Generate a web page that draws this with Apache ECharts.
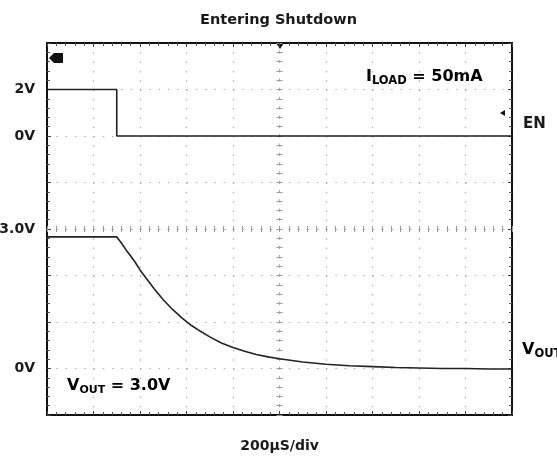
<!DOCTYPE html>
<html>
<head>
<meta charset="utf-8">
<script src="https://cdn.jsdelivr.net/npm/echarts@6/dist/echarts.min.js"></script>
<style>html,body{margin:0;padding:0;background:#fff}#c{width:557px;height:461px}</style>
</head>
<body>
<div id="c"></div>
<script>
// ---- data (time in µs, voltages in V) ----
const enTime = [0, 300, 300, 2000];
const enVolt = [2, 2, 0, 0];
const voutTime = [0, 300, 320, 340, 360, 380, 400, 430, 460, 500, 540, 580, 620, 660, 700, 750, 800, 850, 900, 950, 1000, 1100, 1200, 1300, 1400, 1500, 1600, 1700, 1800, 1900, 2000];
const voutVolt = [2.83, 2.83, 2.70, 2.55, 2.42, 2.28, 2.12, 1.92, 1.72, 1.48, 1.27, 1.09, 0.93, 0.80, 0.68, 0.55, 0.45, 0.37, 0.30, 0.25, 0.21, 0.14, 0.09, 0.06, 0.04, 0.02, 0.01, 0.0, 0.0, -0.01, -0.01];
const enTickValues = [2, 0];
const enTickLabels = ['2V', '0V'];
const voutTickValues = [3, 0];
const voutTickLabels = ['3.0V', '0V'];
const titleText = 'Entering Shutdown';
const xAxisTitle = '200µS/div';

const FONT = 'DejaVu Sans';
const G = {left: 47, top: 43, width: 465, height: 372};
const dark = '#222';
const txt = '#1a1a1a';

function lbl(values, labels) {
  return function (v) {
    for (let i = 0; i < values.length; i++) if (Math.abs(v - values[i]) < 1e-9) return labels[i];
    return '';
  };
}
const borderAxisLine = {show: true, onZero: false, lineStyle: {color: '#111', width: 2}};
const tickIn = {show: true, inside: true, length: 4, lineStyle: {color: '#444', width: 1}};
const minorIn = {show: true, splitNumber: 5, length: 3, lineStyle: {color: '#555', width: 1}};
const centerLine = {show: true, onZero: false, lineStyle: {color: '#aaa', width: 1, type: [1.5, 7.8]}};
const centerTick = (inside) => ({show: true, inside: inside, length: 3, lineStyle: {color: '#999', width: 1}});
const centerMinor = {show: true, splitNumber: 5, length: 3, lineStyle: {color: '#999', width: 1}};
const gridDots = {show: true, lineStyle: {color: '#b0b0b0', width: 1.2, type: [1.5, 7.8]}};
const richA = (fs) => ({fontFamily: FONT, fontWeight: 'bold', fontSize: fs, color: txt, lineHeight: 20, verticalAlign: 'middle'});
const richB = (fs) => ({fontFamily: FONT, fontWeight: 'bold', fontSize: fs, color: txt, lineHeight: 13, verticalAlign: 'bottom'});

const chart = echarts.init(document.getElementById('c'), null, {renderer: 'canvas'});
chart.setOption({
  animation: false,
  title: {text: titleText, left: 'center', top: 8,
    textStyle: {fontFamily: FONT, fontWeight: 'bold', fontSize: 14.5, color: txt}},
  grid: {left: G.left, top: G.top, width: G.width, height: G.height, show: true, borderColor: '#111', borderWidth: 2,
    containLabel: false, outerBoundsMode: 'none'},
  xAxis: [
    {type: 'value', min: 0, max: 2000, interval: 200, position: 'bottom',
      name: xAxisTitle, nameLocation: 'middle', nameGap: 24,
      nameTextStyle: {fontFamily: FONT, fontWeight: 'bold', fontSize: 14, color: txt},
      axisLine: borderAxisLine, axisTick: tickIn, minorTick: minorIn, axisLabel: {show: false},
      splitLine: gridDots},
    {type: 'value', min: 0, max: 2000, interval: 200, position: 'top',
      axisLine: borderAxisLine, axisTick: tickIn, minorTick: minorIn, axisLabel: {show: false}, splitLine: {show: false}},
    {type: 'value', min: 0, max: 2000, interval: 200, position: 'bottom', offset: -G.height / 2,
      axisLine: centerLine, axisTick: centerTick(true), minorTick: centerMinor, axisLabel: {show: false}, splitLine: {show: false}},
    {type: 'value', min: 0, max: 2000, interval: 200, position: 'bottom', offset: -G.height / 2,
      axisLine: {show: false, onZero: false}, axisTick: centerTick(false), minorTick: centerMinor, axisLabel: {show: false}, splitLine: {show: false}}
  ],
  yAxis: [
    {type: 'value', min: -12, max: 4, interval: 2, position: 'left',
      axisLine: borderAxisLine, axisTick: tickIn, minorTick: minorIn, splitLine: {show: false},
      axisLabel: {show: true, margin: 12, formatter: lbl(enTickValues, enTickLabels),
        fontFamily: FONT, fontWeight: 'bold', fontSize: 14, color: txt}},
    {type: 'value', min: -1, max: 7, interval: 1, position: 'left',
      axisLine: {show: false, onZero: false}, axisTick: {show: false}, splitLine: {show: false},
      axisLabel: {show: true, margin: 12, formatter: lbl(voutTickValues, voutTickLabels),
        fontFamily: FONT, fontWeight: 'bold', fontSize: 14, color: txt}},
    {type: 'value', min: 0, max: 8, interval: 1, position: 'right',
      axisLine: borderAxisLine, axisTick: tickIn, minorTick: minorIn, axisLabel: {show: false},
      splitLine: gridDots},
    {type: 'value', min: 0, max: 8, interval: 1, position: 'left', offset: -G.width / 2,
      axisLine: centerLine, axisTick: centerTick(true), minorTick: centerMinor, axisLabel: {show: false}, splitLine: {show: false}},
    {type: 'value', min: 0, max: 8, interval: 1, position: 'left', offset: -G.width / 2,
      axisLine: {show: false, onZero: false}, axisTick: centerTick(false), minorTick: centerMinor, axisLabel: {show: false}, splitLine: {show: false}}
  ],
  series: [
    {name: 'EN', type: 'line', xAxisIndex: 0, yAxisIndex: 0, symbol: 'none',
      lineStyle: {color: dark, width: 1.6},
      data: enTime.map((t, i) => [t, enVolt[i]])},
    {name: 'VOUT', type: 'line', xAxisIndex: 0, yAxisIndex: 1, symbol: 'none', smooth: false,
      lineStyle: {color: dark, width: 1.6},
      data: voutTime.map((t, i) => [t, voutVolt[i]])}
  ],
  graphic: [
    {type: 'text', x: 366, y: 77, style: {
      text: '{a|I}{b|LOAD}{a| = 50mA}', textVerticalAlign: 'middle',
      rich: {a: richA(16), b: richB(11.5)}}},
    {type: 'text', x: 67, y: 386, style: {
      text: '{a|V}{b|OUT}{a| = 3.0V}', textVerticalAlign: 'middle',
      rich: {a: richA(16), b: richB(11)}}},
    {type: 'text', x: 523, y: 124, style: {text: 'EN', textVerticalAlign: 'middle',
      font: 'bold 15px "DejaVu Sans"', fill: txt}},
    {type: 'text', x: 522, y: 350, style: {
      text: '{a|V}{b|OUT}', textVerticalAlign: 'middle',
      rich: {a: richA(16), b: richB(11.5)}}},
    {type: 'polygon', shape: {points: [[276, 43], [284, 43], [280, 49]]}, style: {fill: '#111'}},
    {type: 'polygon', shape: {points: [[49, 58], [54, 53], [63, 53], [63, 63], [54, 63]]}, style: {fill: '#111'}},
    {type: 'polygon', shape: {points: [[500, 113], [505, 110], [505, 116]]}, style: {fill: '#111'}}
  ]
});
</script>
</body>
</html>
